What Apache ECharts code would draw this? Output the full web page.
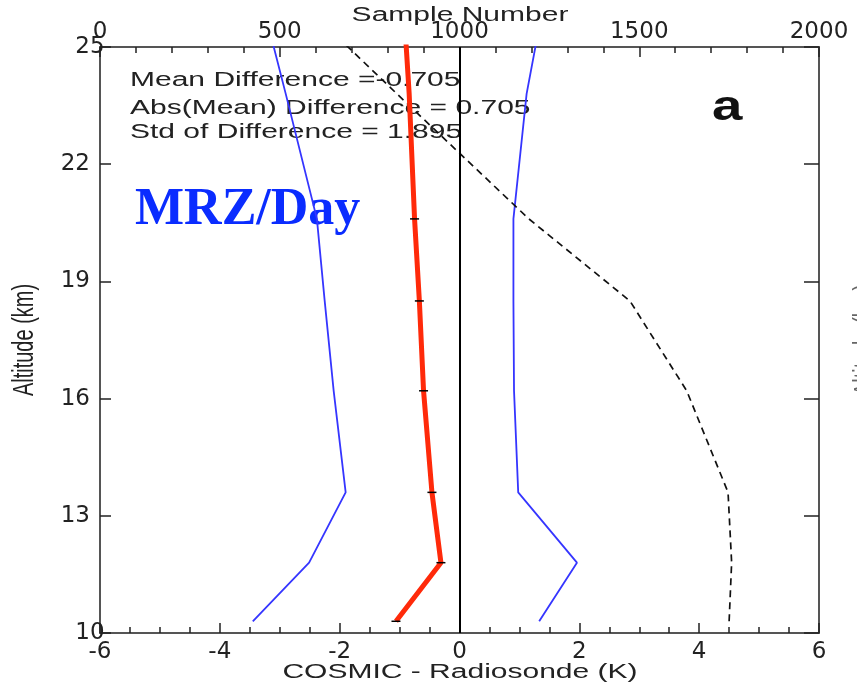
<!DOCTYPE html>
<html>
<head>
<meta charset="utf-8">
<script src="https://cdn.jsdelivr.net/npm/echarts@6/dist/echarts.min.js"></script>
<style>
html, body { margin: 0; padding: 0; background: #fff; }
#main { width: 857px; height: 690px; }
</style>
</head>
<body>
<div id="main"></div>
<script>
// altitude levels (km), the last one lies above the plotted range
var altitudes = [10.3, 11.8, 13.6, 16.2, 18.5, 20.6, 23.8, 26.5];
// COSMIC - radiosonde (K)
var meanDiff = [-1.06, -0.31, -0.46, -0.60, -0.67, -0.75, -0.84, -0.95];
var lowerBound = [-3.45, -2.51, -1.90, -2.10, -2.25, -2.38, -2.90, -3.35];
var upperBound = [1.33, 1.96, 0.98, 0.91, 0.90, 0.90, 1.12, 1.45];
// number of samples per level
var sampleNumber = [1750, 1757, 1747, 1632, 1474, 1193, 826, 520];
// levels where the mean curve shows a small black mark
var markedLevels = [10.3, 11.8, 13.6, 16.2, 18.5, 20.6];
var statLines = ['Mean Difference =-0.705', 'Abs(Mean) Difference = 0.705', 'Std of Difference = 1.895'];

function pairs(xs) {
    var out = [];
    for (var i = 0; i < xs.length; i++) {
        out.push([xs[i], altitudes[i]]);
    }
    return out;
}

// the source figure is stretched sideways, so texts get a scaleX
function label(text, x, y, opts) {
    return {
        type: 'text', x: x, y: y,
        rotation: opts.rotation || 0,
        scaleX: opts.sx || 1, scaleY: opts.sy || 1,
        style: {
            text: text, font: opts.font, fill: opts.fill || '#222',
            align: opts.align || 'left', verticalAlign: 'middle'
        }
    };
}

var tickFont = 'DejaVu Sans';
var axisLine = { show: true, onZero: false, lineStyle: { color: '#555', width: 2 } };
var tickStyle = { color: '#222', width: 1.5 };

var myChart = echarts.init(document.getElementById('main'));
var option = {
    backgroundColor: '#fff',
    animation: false,
    grid: { left: 100, right: 38, top: 47, bottom: 57 },
    xAxis: [{
        type: 'value', position: 'bottom', min: -6, max: 6, interval: 2,
        axisLine: axisLine,
        axisTick: { inside: true, length: 10, lineStyle: tickStyle },
        minorTick: { show: true, splitNumber: 4, length: 6, lineStyle: tickStyle },
        splitLine: { show: false },
        axisLabel: { fontFamily: tickFont, fontSize: 23, color: '#222', margin: 8 }
    }, {
        type: 'value', position: 'top', min: 0, max: 2000, interval: 500,
        axisLine: axisLine,
        axisTick: { inside: true, length: 10, lineStyle: tickStyle },
        minorTick: { show: true, splitNumber: 5, length: 6, lineStyle: tickStyle },
        splitLine: { show: false },
        axisLabel: {
            fontFamily: tickFont, fontSize: 23, color: '#222', margin: 3,
            formatter: function (v) { return String(v); }
        }
    }],
    yAxis: [{
        type: 'value', position: 'left', min: 10, max: 25, interval: 3,
        axisLine: axisLine,
        axisTick: { inside: true, length: 11, lineStyle: tickStyle },
        splitLine: { show: false },
        axisLabel: {
            fontFamily: tickFont, fontSize: 23, color: '#222', margin: 10,
            alignMinLabel: 'center', alignMaxLabel: 'center'
        }
    }, {
        type: 'value', position: 'right', min: 10, max: 25, interval: 3,
        axisLine: axisLine,
        axisTick: { inside: true, length: 15, lineStyle: tickStyle },
        splitLine: { show: false },
        axisLabel: { show: false }
    }],
    series: [{
        name: 'lower', type: 'line', xAxisIndex: 0, yAxisIndex: 0,
        data: pairs(lowerBound), showSymbol: false,
        lineStyle: { color: '#3535ff', width: 1.8 }
    }, {
        name: 'upper', type: 'line', xAxisIndex: 0, yAxisIndex: 0,
        data: pairs(upperBound), showSymbol: false,
        lineStyle: { color: '#3535ff', width: 1.8 }
    }, {
        name: 'samples', type: 'line', xAxisIndex: 1, yAxisIndex: 0,
        data: pairs(sampleNumber), showSymbol: false,
        lineStyle: { color: '#111', width: 1.7, type: [7, 5] }
    }, {
        name: 'mean', type: 'line', xAxisIndex: 0, yAxisIndex: 0,
        data: pairs(meanDiff), z: 5,
        symbol: 'rect', showSymbol: true,
        symbolSize: function (v) {
            return markedLevels.indexOf(v[1]) >= 0 ? [9, 1.5] : 0;
        },
        itemStyle: { color: '#000' },
        lineStyle: { color: '#ff2a0a', width: 5 },
        markLine: {
            silent: true, symbol: 'none', label: { show: false },
            lineStyle: { color: '#000', width: 2, type: 'solid' },
            data: [{ xAxis: 0 }]
        }
    }],
    graphic: [
        label(statLines[0], 130, 80, { font: '20px "Liberation Sans"', sx: 1.5 }),
        label(statLines[1], 130, 108.5, { font: '20px "Liberation Sans"', sx: 1.5 }),
        label(statLines[2], 130, 132.5, { font: '20px "Liberation Sans"', sx: 1.5 }),
        label('a', 712, 108, { font: 'bold 42px "Liberation Sans"', sx: 1.3, fill: '#111' }),
        label('MRZ/Day', 135, 210.5, { font: 'bold 52px "Liberation Serif"', fill: '#0a2cff' }),
        label('Sample Number', 460, 15, { font: '20px "Liberation Sans"', sx: 1.5, align: 'center' }),
        label('COSMIC - Radiosonde (K)', 460, 672, { font: '20px "Liberation Sans"', sx: 1.5, align: 'center' }),
        label('Altitude (km)', 25, 340, { font: '20px "Liberation Sans"', sy: 1.5, rotation: Math.PI / 2, align: 'center' }),
        // edge of the neighbouring panel's axis name
        label('Altitude (km)', 866, 340, { font: '20px "Liberation Sans"', sy: 1.5, rotation: Math.PI / 2, align: 'center', fill: '#666' })
    ]
};
myChart.setOption(option);
</script>
</body>
</html>
